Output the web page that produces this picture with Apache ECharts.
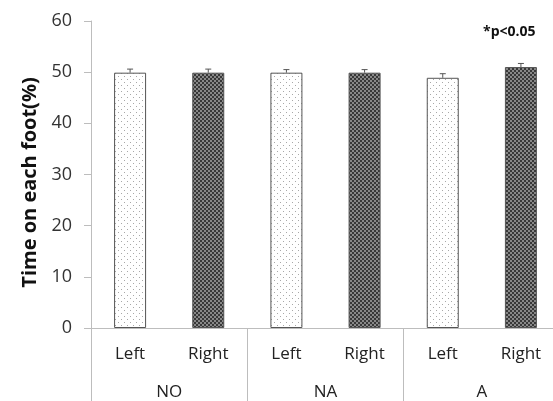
<!DOCTYPE html>
<html>
<head>
<meta charset="utf-8">
<script src="https://cdn.jsdelivr.net/npm/echarts@6/dist/echarts.min.js"></script>
<style>
html,body{margin:0;padding:0;background:#fff;}
#main{width:553px;height:401px;}
</style>
</head>
<body>
<div id="main"></div>
<script>
// ---- data ----
const sides = ['Left', 'Right', 'Left', 'Right', 'Left', 'Right'];
const groups = ['NO', 'NA', 'A'];
const values = [49.9, 49.9, 49.9, 49.9, 48.9, 51.0];
const errors = [0.7, 0.7, 0.6, 0.6, 0.8, 0.7];
const yTicks = [0, 10, 20, 30, 40, 50, 60];
const yTitle = 'Time on each foot(%)';
const note = '*p<0.05';

function makePattern(dark) {
  const c = document.createElement('canvas');
  if (dark) {
    c.width = 4; c.height = 4;
    const g = c.getContext('2d');
    g.fillStyle = '#888888'; g.fillRect(0, 0, 4, 4);
    g.fillStyle = '#383838';
    g.fillRect(0, 0, 2, 2); g.fillRect(2, 2, 2, 2);
  } else {
    c.width = 6; c.height = 6;
    const g = c.getContext('2d');
    g.fillStyle = '#ffffff'; g.fillRect(0, 0, 6, 6);
    g.fillStyle = '#a8a8a8';
    g.fillRect(1, 1, 1, 1); g.fillRect(4, 4, 1, 1);
  }
  return { image: c, repeat: 'repeat' };
}
const lightPat = makePattern(false);
const darkPat = makePattern(true);

const barData = values.map((v, i) => ({
  value: v,
  itemStyle: { color: i % 2 === 0 ? lightPat : darkPat }
}));
const errData = values.map((v, i) => [i, v, errors[i]]);

const chart = echarts.init(document.getElementById('main'), null, { renderer: 'canvas' });
chart.setOption({
  animation: false,
  backgroundColor: '#ffffff',
  grid: { left: 91, top: 21, width: 469, height: 307, containLabel: false, outerBoundsMode: 'none' },
  xAxis: [
    {
      type: 'category', data: sides, position: 'bottom',
      axisLine: { show: true, lineStyle: { color: '#bdbdbd', width: 1 } },
      axisTick: { show: false },
      axisLabel: { color: '#222', fontSize: 17, fontFamily: 'Open Sans', margin: 18 }
    },
    {
      type: 'category', data: groups, position: 'bottom', gridIndex: 0,
      axisLine: { show: false },
      axisTick: { show: true, length: 75, inside: false, alignWithLabel: false, lineStyle: { color: '#bdbdbd' } },
      axisLabel: { color: '#222', fontSize: 17, fontFamily: 'Open Sans', margin: 56 }
    }
  ],
  yAxis: {
    type: 'value', min: 0, max: 60, interval: 10,
    name: yTitle, nameLocation: 'middle', nameGap: 50, nameRotate: 90,
    nameTextStyle: { color: '#111', fontSize: 20, fontWeight: 'bold', fontFamily: 'Open Sans', padding: [0, 16, 0, 0] },
    axisLine: { show: true, lineStyle: { color: '#bdbdbd', width: 1 } },
    axisTick: { show: true, length: 7, lineStyle: { color: '#bdbdbd' } },
    axisLabel: { color: '#333', fontSize: 18, fontFamily: 'Open Sans', margin: 19,
      formatter: v => yTicks.includes(v) ? String(v) : '' },
    splitLine: { show: false }
  },
  graphic: [{
    type: 'text', left: 483, top: 25,
    style: { text: note, fill: '#111', font: 'bold 14px "Open Sans"' }
  }],
  series: [
    {
      type: 'bar', xAxisIndex: 0, data: barData, barWidth: 32,
      itemStyle: { borderColor: '#555', borderWidth: 1 }
    },
    {
      type: 'custom', xAxisIndex: 0, data: errData, z: 5,
      renderItem: function (params, api) {
        const x = api.value(0), v = api.value(1), e = api.value(2);
        const base = api.coord([x, v]);
        const top = api.coord([x, v + e]);
        const st = { stroke: '#555', lineWidth: 1 };
        return {
          type: 'group',
          children: [
            { type: 'line', shape: { x1: base[0], y1: base[1], x2: top[0], y2: top[1] }, style: st },
            { type: 'line', shape: { x1: top[0] - 3, y1: top[1], x2: top[0] + 3, y2: top[1] }, style: st }
          ]
        };
      }
    }
  ]
});
</script>
</body>
</html>
